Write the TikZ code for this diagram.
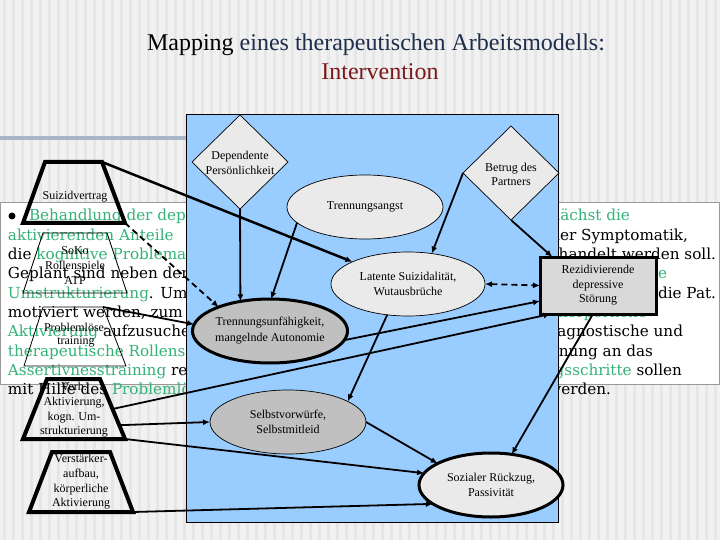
\documentclass[tikz,border=0pt]{standalone}
\usepackage{fontspec}
\setmainfont{Liberation Serif}
\newfontfamily\parafont{DejaVu Serif}
\usetikzlibrary{shapes.geometric,arrows.meta,calc}
\definecolor{bgA}{HTML}{F1F1F1}
\definecolor{bgB}{HTML}{E6E6E6}
\definecolor{barc}{HTML}{A8B6C8}
\definecolor{bluebg}{HTML}{99CCFF}
\definecolor{lgray}{HTML}{EAEAEA}
\definecolor{dgray}{HTML}{C0C0C0}
\definecolor{boxgray}{HTML}{D9D9D9}
\definecolor{grn}{HTML}{34B278}
\definecolor{navy}{HTML}{1C2E4A}
\definecolor{dred}{HTML}{7B1818}
\begin{document}
\begin{tikzpicture}[x=1pt,y=-1pt,
  every node/.style={inner sep=0pt,outer sep=0pt},
  nodetext/.style={font=\fontsize{12}{14.5}\selectfont,align=center},
  traptext/.style={font=\fontsize{12}{14.7}\selectfont,align=center},
  para/.style={font=\parafont\fontsize{15.2}{19}\selectfont},
  titletext/.style={font=\fontsize{24}{28}\selectfont},
  thinell/.style={ellipse,draw=black,line width=0.7pt,nodetext},
  thickell/.style={ellipse,draw=black,line width=3pt,nodetext},
  dia/.style={diamond,draw=black,line width=0.7pt,fill=lgray,minimum width=96pt,minimum height=94pt},
  thicktrap/.style={draw=black,line width=4pt,line join=miter},
  thintrap/.style={draw=black,line width=0.8pt},
  conn/.style={line width=1.8pt,-{Latex[length=7pt,width=6pt]}},
  dashconn/.style={line width=1.8pt,dash pattern=on 6pt off 4pt},
]
% background
\fill[bgA] (0,0) rectangle (720,540);
\foreach \i in {0,...,79} \fill[bgB] ({\i*9+3},0) rectangle ({\i*9+6},540);
\useasboundingbox (0,0) rectangle (720,540);
\fill[barc] (0,136) rectangle (186,140);

% title
\node[titletext,anchor=base] (title1) at (376,51) {Mapping \textcolor{navy}{eines therapeutischen Arbeitsmodells:}};
\node[titletext,anchor=base,text=dred] (title2) at (380,80) {Intervention};

% text box
\node[draw=gray!80,line width=0.8pt,fill=white,minimum width=719pt,minimum height=182pt,anchor=north west] (textbox) at (0.5,202) {};
\node[circle,fill=black,minimum size=7pt] (bullet) at (12,216) {};
\node[para,anchor=base west,text=grn] (l1) at (29,221) {Behandlung der depressiven};
\node[para,anchor=base west,text=grn] (l2) at (8,240.3) {aktivierenden Anteile};
\node[para,anchor=base west] (l3) at (8,259.6) {die \textcolor{grn}{kognitive Problematik}};
\node[para,anchor=base west] (l4) at (8,278.9) {Geplant sind neben der};
\node[para,anchor=base west] (l5) at (8,298.2) {\textcolor{grn}{Umstrukturierung}. Um};
\node[para,anchor=base west] (l6) at (8,317.5) {motiviert werden, zum};
\node[para,anchor=base west] (l7) at (8,336.8) {\textcolor{grn}{Aktivierung} aufzusuchen};
\node[para,anchor=base west,text=grn] (l8) at (8,356.1) {therapeutische Rollenspiele};
\node[para,anchor=base west] (l9) at (8,375.4) {\textcolor{grn}{Assertivnesstraining} realisiert};
\node[para,anchor=base west] (l10) at (8,394.7) {mit Hilfe des \textcolor{grn}{Problemlöse}};
\node[para,anchor=base east,text=grn] (r1) at (630,221) {Zunächst die};
\node[para,anchor=base east] (r2) at (688,240.3) {der Symptomatik,};
\node[para,anchor=base east] (r3) at (716,259.6) {behandelt werden soll.};
\node[para,anchor=base east,text=grn] (r4) at (667,278.9) {kognitive};
\node[para,anchor=base east] (r5) at (716,298.2) {die Pat.};
\node[para,anchor=base east,text=grn] (r6) at (647,317.5) {körperliche};
\node[para,anchor=base east] (r7) at (683,336.8) {diagnostische und};
\node[para,anchor=base east] (r8) at (653,356.1) {Anlehnung an das};
\node[para,anchor=base east] (r9) at (682,375.4) {\textcolor{grn}{Problemlösungsschritte} sollen};
\node[para,anchor=base east] (r10) at (611,394.7) {werden.};

% panel
\node[draw=black,line width=0.7pt,fill=bluebg,minimum width=372pt,minimum height=408pt,anchor=north west] (panel) at (186,114) {};

% diagram nodes
\node[dia,label={[nodetext,yshift=-1pt]center:{Dependente\\Persönlichkeit}}] (dep) at (240,162) {};
\node[dia,label={[nodetext,yshift=-1.5pt]center:{Betrug des\\Partners}}] (bet) at (511,173) {};
\node[thinell,fill=lgray,minimum width=156pt,minimum height=64pt] (tang) at (365,207) {Trennungsangst};
\node[thinell,fill=lgray,minimum width=154pt,minimum height=64pt] (latent) at (408,284) {Latente Suizidalität,\\Wutausbrüche};
\node[thickell,fill=dgray,minimum width=154pt,minimum height=64pt,font=\fontsize{12}{16}\selectfont] (tunf) at (270,331) {Trennungsunfähigkeit,\\mangelnde Autonomie};
\node[thinell,fill=dgray,minimum width=156pt,minimum height=64pt] (selb) at (288,422) {Selbstvorwürfe,\\Selbstmitleid};
\node[thickell,fill=lgray,minimum width=144pt,minimum height=64pt] (soz) at (491,485) {Sozialer Rückzug,\\Passivität};
\node[draw=black,line width=3pt,fill=boxgray,minimum width=116pt,minimum height=57pt,nodetext] (rez) at (598,285.5) {Rezidivierende\\depressive\\Störung};

% left trapezoids: corners
\coordinate (t1tl) at (45,162);  \coordinate (t1tr) at (102,162); \coordinate (t1br) at (125,223); \coordinate (t1bl) at (23,223);
\coordinate (t2tl) at (43,233);  \coordinate (t2tr) at (107,233); \coordinate (t2br) at (127,293); \coordinate (t2bl) at (23,293);
\coordinate (t3tl) at (43,307);  \coordinate (t3tr) at (103,307); \coordinate (t3br) at (126,366); \coordinate (t3bl) at (24,366);
\coordinate (t4tl) at (47,379);  \coordinate (t4tr) at (100,379); \coordinate (t4br) at (125,439); \coordinate (t4bl) at (23,439);
\coordinate (t5tl) at (52,452);  \coordinate (t5tr) at (110,452); \coordinate (t5br) at (133,512); \coordinate (t5bl) at (29,512);
\draw[thicktrap] (t1tl) -- (t1tr) -- (t1br) -- (t1bl) -- cycle;
\draw[thintrap] (t2tl) -- (t2tr) -- (t2br) -- (t2bl) -- cycle;
\draw[thintrap] (t3tl) -- (t3tr) -- (t3br) -- (t3bl) -- cycle;
\draw[thicktrap] (t4tl) -- (t4tr) -- (t4br) -- (t4bl) -- cycle;
\draw[thicktrap] (t5tl) -- (t5tr) -- (t5br) -- (t5bl) -- cycle;
\node[traptext] (susv) at (75,197) {Suizidvertrag};
\node[traptext] (soko) at (75,265.5) {SoKo\\Rollenspiele\\ATP};
\node[traptext,font=\fontsize{12}{13}\selectfont] (prob) at (76,335) {Problemlöse-\\training};
\node[traptext] (verh) at (74,410) {Verh.\\Aktivierung,\\kogn. Um-\\strukturierung};
\node[traptext] (verst) at (81,482) {Verstärker-\\aufbau,\\körperliche\\Aktivierung};
\coordinate (t4r) at ($(t4tr)!0.5!(t4br)$);
\coordinate (t4r2) at ($(t4tr)!0.77!(t4br)$);

% connectors
\draw[conn,line width=2.5pt] (t1tr) -- (latent);
\draw[conn,dash pattern=on 6pt off 4pt] (t1br) -- (tunf.155);
\draw[conn] (t3tr) -- (tunf.175);
\draw[conn] (dep.south) -- (tunf.135);
\draw[conn] (tang.193) -- (tunf.88);
\draw[conn] (bet.west) -- (latent.52);
\draw[conn] (bet.south) -- (rez.148);
\draw[dashconn,{Latex[length=7pt,width=6pt]}-{Latex[length=7pt,width=6pt]}] (latent.east) -- (rez.west);
\draw[conn] (tunf.-7) -- (rez.195);
\draw[conn] (t4r) -- (rez.211);
\draw[conn] (t4r2) -- (selb.west);
\draw[conn] (t4br) -- (soz.170);
\draw[conn] (t5br) -- (soz.198);
\draw[conn] (selb.east) -- (soz.158);
\draw[conn] (rez.260) -- (soz.56);
\draw[conn] (latent.236) -- (selb.19);
\end{tikzpicture}
\end{document}
